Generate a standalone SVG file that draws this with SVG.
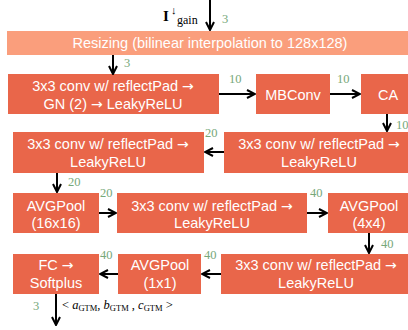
<svg xmlns="http://www.w3.org/2000/svg" width="408" height="330" viewBox="0 0 408 330">
<defs>
<marker id="ah" viewBox="0 0 10 10" refX="9" refY="5" markerWidth="5" markerHeight="5" orient="auto" markerUnits="strokeWidth">
<polyline points="1,1 9,5 1,9" fill="none" stroke="#000" stroke-width="2"/>
</marker>
<style>
.box{fill:#E9664A}
.rs{fill:#FA9E7C}
.t{font-family:"Liberation Sans",Arial,sans-serif;font-size:14.5px;fill:#fff;text-anchor:middle}
.a{font-family:"DejaVu Sans",sans-serif;font-size:14px}
.n{font-family:"Liberation Serif","DejaVu Serif",serif;font-size:12.5px;fill:#76A879}
.c{stroke:#000;stroke-width:2;fill:none;marker-end:url(#ah)}
.m{font-family:"Liberation Serif","DejaVu Serif",serif;fill:#000}
</style>
</defs>
<rect width="408" height="330" fill="#fff"/>
<g id="input">
<text class="m" x="163" y="21" font-size="15" font-weight="bold">I</text>
<text class="m" x="171" y="14" font-size="11" font-family="DejaVu Sans">↓</text>
<text class="m" x="177" y="24" font-size="12">gain</text>
</g>
<g id="resize"><rect class="rs" x="7" y="31" width="410" height="24"/><text class="t" x="210" y="48">Resizing (bilinear interpolation to 128x128)</text></g>
<g id="conv1"><rect class="box" x="8" y="74" width="211" height="40"/><text class="t" x="113" y="91">3x3 conv w/ reflectPad <tspan class="a">→</tspan></text><text class="t" x="113" y="109">GN (2) <tspan class="a">→</tspan> LeakyReLU</text></g>
<g id="mbconv"><rect class="box" x="256" y="74" width="74" height="40"/><text class="t" x="293" y="100">MBConv</text></g>
<g id="ca"><rect class="box" x="361" y="74" width="55" height="40"/><text class="t" x="388" y="100">CA</text></g>
<g id="conv2"><rect class="box" x="224" y="132" width="190" height="41"/><text class="t" x="319" y="149">3x3 conv w/ reflectPad <tspan class="a">→</tspan></text><text class="t" x="319" y="167">LeakyReLU</text></g>
<g id="conv3"><rect class="box" x="13" y="132" width="191" height="41"/><text class="t" x="108" y="149">3x3 conv w/ reflectPad <tspan class="a">→</tspan></text><text class="t" x="108" y="167">LeakyReLU</text></g>
<g id="pool16"><rect class="box" x="13" y="193" width="86" height="40"/><text class="t" x="56" y="211">AVGPool</text><text class="t" x="56" y="228">(16x16)</text></g>
<g id="conv4"><rect class="box" x="117" y="193" width="190" height="40"/><text class="t" x="212" y="211">3x3 conv w/ reflectPad <tspan class="a">→</tspan></text><text class="t" x="212" y="228">LeakyReLU</text></g>
<g id="pool4"><rect class="box" x="328" y="193" width="84" height="40"/><text class="t" x="369" y="211">AVGPool</text><text class="t" x="369" y="228">(4x4)</text></g>
<g id="conv5"><rect class="box" x="221" y="254" width="191" height="40"/><text class="t" x="316" y="270">3x3 conv w/ reflectPad <tspan class="a">→</tspan></text><text class="t" x="316" y="288">LeakyReLU</text></g>
<g id="pool1"><rect class="box" x="118" y="254" width="83" height="40"/><text class="t" x="160" y="270">AVGPool</text><text class="t" x="160" y="288">(1x1)</text></g>
<g id="fc"><rect class="box" x="13" y="254" width="86" height="40"/><text class="t" x="56" y="270">FC <tspan class="a">→</tspan></text><text class="t" x="56" y="288">Softplus</text></g>
<g id="connectors">
<path class="c" d="M210,0 V30"/>
<path class="c" d="M113,55 V74"/>
<path class="c" d="M219,94 H255"/>
<path class="c" d="M330,94 H360"/>
<path class="c" d="M387,114 V131"/>
<path class="c" d="M224,152 H205"/>
<path class="c" d="M57,173 V192"/>
<path class="c" d="M99,213 H116"/>
<path class="c" d="M307,213 H327"/>
<path class="c" d="M369,233 V253"/>
<path class="c" d="M221,274 H202"/>
<path class="c" d="M118,274 H100"/>
<path class="c" d="M56,294 V325"/>
</g>
<g id="labels">
<text class="n" x="222" y="23">3</text>
<text class="n" x="124" y="67">3</text>
<text class="n" x="229" y="83">10</text>
<text class="n" x="337" y="83">10</text>
<text class="n" x="396" y="129">10</text>
<text class="n" x="205" y="137">20</text>
<text class="n" x="68" y="186">20</text>
<text class="n" x="100" y="197">20</text>
<text class="n" x="310" y="197">40</text>
<text class="n" x="381" y="248">40</text>
<text class="n" x="204" y="259">40</text>
<text class="n" x="100" y="259">40</text>
<text class="n" x="33" y="310">3</text>
</g>
<g id="output">
<text class="m" x="62" y="309" font-size="12.5">&lt; <tspan font-style="italic">a</tspan><tspan font-size="8.5" dy="2">GTM</tspan><tspan dy="-2">, </tspan><tspan font-style="italic">b</tspan><tspan font-size="8.5" dy="2">GTM</tspan><tspan dy="-2"> , </tspan><tspan font-style="italic">c</tspan><tspan font-size="8.5" dy="2">GTM</tspan><tspan dy="-2"> &gt;</tspan></text>
</g>
</svg>
